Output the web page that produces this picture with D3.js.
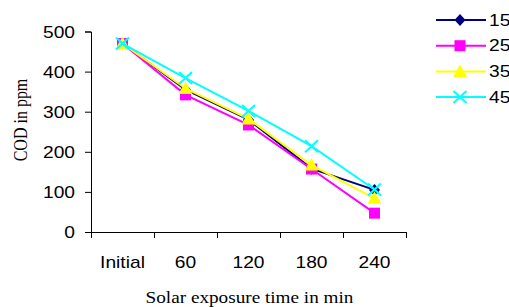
<!DOCTYPE html>
<html>
<head>
<meta charset="utf-8">
<script src="https://cdn.jsdelivr.net/npm/d3@7"></script>
<style>
  body { margin: 0; background: #fff; }
  svg { display: block; }
  .axis path, .axis line { stroke: #000; }
  .tick-label { font-family: Arial, 'Liberation Sans', sans-serif; font-size: 16px; fill: #000; }
  .title { font-family: 'Times New Roman', 'Liberation Serif', serif; font-size: 16px; fill: #000; }
</style>
</head>
<body>
<svg width="509" height="307"></svg>
<script>
const categories = ['Initial', '60', '120', '180', '240'];
const yTicks = [0, 100, 200, 300, 400, 500];

const series15 = [470, 355, 280, 158, 105];
const series25 = [470, 342, 267, 157, 47];
const series35 = [470, 358, 282, 167, 84];
const series45 = [470, 384, 302, 214, 106];

const seriesNames = ['15', '25', '35', '45'];
const seriesValues = [series15, series25, series35, series45];
const seriesColors = ['#000080', '#ff00ff', '#ffff00', '#00ffff'];
const seriesShapes = ['diamond', 'square', 'triangle', 'cross'];

const svg = d3.select('svg');

const margin = { left: 91, top: 31.5 };
const width = 315;
const height = 200.5;
// text in the picture is stretched sideways a bit
const stretch = 1.2;

const chart = svg.append('g')
    .attr('transform', `translate(${margin.left}, ${margin.top})`);

const xScale = d3.scaleBand()
    .range([0, width])
    .domain(categories)
    .padding(0);

const xEdges = d3.scaleLinear()
    .range([0, width])
    .domain([0, categories.length]);

const yScale = d3.scaleLinear()
    .range([height, 0])
    .domain([0, 500]);

// symbols drawn by hand so the sizes match
const shapes = {
    diamond: { draw(c) { c.moveTo(0, -6); c.lineTo(5.5, 0); c.lineTo(0, 6); c.lineTo(-5.5, 0); c.closePath(); } },
    square: { draw(c) { c.rect(-5.5, -5.5, 11, 11); } },
    triangle: { draw(c) { c.moveTo(0, -7); c.lineTo(7, 5.5); c.lineTo(-7, 5.5); c.closePath(); } },
    cross: { draw(c) { c.moveTo(-6.5, -6); c.lineTo(6.5, 6); c.moveTo(-6.5, 6); c.lineTo(6.5, -6); } }
};
const symbolPath = (name) => d3.symbol().type(shapes[name])();

// x axis: ticks on the band edges, labels in the middle
chart.append('g')
    .attr('class', 'axis')
    .attr('transform', `translate(0, ${height})`)
    .call(d3.axisBottom(xEdges)
        .tickValues(d3.range(categories.length + 1))
        .tickSize(6)
        .tickSizeOuter(0)
        .tickFormat(''));

chart.append('g')
    .attr('class', 'xlabels')
    .selectAll('text')
    .data(categories)
    .enter()
    .append('text')
    .attr('class', 'tick-label')
    .attr('text-anchor', 'middle')
    .attr('transform', (d) => `translate(${xScale(d) + xScale.bandwidth() / 2}, ${height + 36}) scale(${stretch},1)`)
    .text((d) => d);

const yAxis = chart.append('g')
    .attr('class', 'axis')
    .call(d3.axisLeft(yScale)
        .tickValues(yTicks)
        .tickSize(6)
        .tickSizeOuter(6));

yAxis.selectAll('text')
    .attr('class', 'tick-label')
    .attr('x', 0)
    .attr('dy', '0.36em')
    .attr('transform', `translate(-16, 0) scale(${stretch},1)`);

yAxis.select('.domain').attr('stroke', '#000');

const line = d3.line()
    .x((d, i) => xScale(categories[i]) + xScale.bandwidth() / 2)
    .y((d) => yScale(d));

seriesValues.forEach((vals, s) => {
    const g = chart.append('g');
    g.append('path')
        .datum(vals)
        .attr('fill', 'none')
        .attr('stroke', seriesColors[s])
        .attr('stroke-width', 2)
        .attr('d', line);

    g.selectAll('.pt')
        .data(vals)
        .enter()
        .append('path')
        .attr('class', 'pt')
        .attr('transform', (d, i) => `translate(${xScale(categories[i]) + xScale.bandwidth() / 2}, ${yScale(d)})`)
        .attr('d', symbolPath(seriesShapes[s]))
        .attr('fill', seriesShapes[s] === 'cross' ? 'none' : seriesColors[s])
        .attr('stroke', seriesShapes[s] === 'cross' ? seriesColors[s] : 'none')
        .attr('stroke-width', 2);
});

// legend
const legend = svg.append('g')
    .attr('transform', 'translate(436, 20)');

seriesNames.forEach((name, s) => {
    const row = legend.append('g')
        .attr('transform', `translate(0, ${s * 25.7})`);
    row.append('line')
        .attr('x1', 0)
        .attr('x2', 50)
        .attr('stroke', seriesColors[s])
        .attr('stroke-width', 2);
    row.append('path')
        .attr('transform', 'translate(24, 0)')
        .attr('d', symbolPath(seriesShapes[s]))
        .attr('fill', seriesShapes[s] === 'cross' ? 'none' : seriesColors[s])
        .attr('stroke', seriesShapes[s] === 'cross' ? seriesColors[s] : 'none')
        .attr('stroke-width', 2);
    row.append('text')
        .attr('class', 'tick-label')
        .attr('dy', '0.36em')
        .attr('transform', `translate(53, 0) scale(${stretch},1)`)
        .text(name);
});

svg.append('text')
    .attr('class', 'title')
    .attr('text-anchor', 'middle')
    .attr('transform', `translate(249.5, 303) scale(${stretch},1)`)
    .text('Solar exposure time in min');

svg.append('text')
    .attr('class', 'title')
    .attr('text-anchor', 'middle')
    .attr('transform', `translate(27, 120) scale(${stretch},1) rotate(-90)`)
    .text('COD in ppm');
</script>
</body>
</html>
